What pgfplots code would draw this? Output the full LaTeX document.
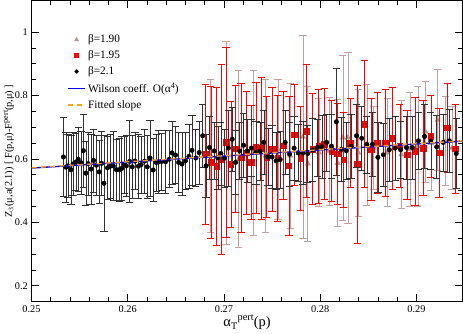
\documentclass[border=0pt]{standalone}
\usepackage{fontspec}
\setmainfont{Liberation Serif}
\usepackage{pgfplots}
\pgfplotsset{compat=1.18}

\definecolor{bnine}{RGB}{188,143,143}
\definecolor{wblue}{RGB}{0,0,255}
\definecolor{fitorange}{RGB}{255,165,0}

\pgfplotsset{
    ebars/.style={
        error bars/y dir=both,
        error bars/y explicit,
        error bars/error bar style={#1, line width=0.55pt, solid},
        error bars/error mark options={rotate=90, mark size=3.5pt, #1, line width=0.55pt, solid},
    },
}

\begin{document}
\begin{tikzpicture}
\begin{axis}[
    scale only axis,
    width=418pt, height=292pt,
    xmin=0.25, xmax=0.2948,
    ymin=0.15, ymax=1.1,
    xtick={0.25,0.26,0.27,0.28,0.29},
    xticklabels={0.25,0.26,0.27,0.28,0.29},
    ytick={0.2,0.4,0.6,0.8,1},
    yticklabels={0.2,0.4,0.6,0.8,1},
    minor x tick num=4,
    minor y tick num=3,
    tick align=inside,
    tick pos=both,
    major tick length=7pt,
    minor tick length=4pt,
    tick style={black, line width=0.6pt},
    axis line style={line width=0.8pt},
    tick label style={font=\fontsize{10}{12}\selectfont},
    xlabel={\fontsize{14}{16}\selectfont α$_{\mathrm{T}}$\raisebox{0.9ex}{\fontsize{10}{12}\selectfont pert}(p)},
    ylabel={\fontsize{10}{12}\selectfont Z$_{3}$(μ,a(2.1)) [ F(p,μ)-F\raisebox{0.8ex}{\fontsize{8}{10}\selectfont pert}(p,μ) ]},
    xlabel style={yshift=4pt},
    ylabel style={yshift=-6pt},
    legend style={draw=none, fill=none, at={(rel axis cs:0.075,0.90)}, anchor=north west,
        font=\fontsize{11}{13}\selectfont, row sep=2.2pt},
    legend cell align=left,
    clip marker paths=true,
]

% --- beta = 1.90 ---
\addplot[forget plot, only marks, mark=triangle*, mark size=3pt, color=bnine, ebars=bnine!85]
 coordinates {
 (0.26861,0.610) +- (0,0.24)
 (0.27022,0.650) +- (0,0.32)
 (0.27154,0.600) +- (0,0.28)
 (0.27304,0.620) +- (0,0.26)
 (0.27432,0.610) +- (0,0.24)
 (0.27561,0.630) +- (0,0.22)
 (0.27689,0.610) +- (0,0.23)
 (0.27821,0.670) +- (0,0.32)
 (0.27871,0.585) +- (0,0.245)
 (0.27986,0.620) +- (0,0.17)
 (0.28093,0.625) +- (0,0.17)
 (0.28182,0.587) +- (0,0.20)
 (0.28236,0.667) +- (0,0.26)
 (0.28289,0.667) +- (0,0.27)
 (0.28396,0.620) +- (0,0.20)
 (0.28485,0.645) +- (0,0.19)
 (0.28557,0.635) +- (0,0.13)
 (0.28696,0.620) +- (0,0.17)
 (0.28843,0.614) +- (0,0.17)
 (0.28932,0.630) +- (0,0.18)
 (0.29015,0.640) +- (0,0.19)
 (0.29093,0.686) +- (0,0.16)
 (0.29150,0.650) +- (0,0.15)
 (0.29221,0.723) +- (0,0.16)
 (0.29300,0.656) +- (0,0.14)
 (0.29371,0.635) +- (0,0.13)
};

% --- beta = 1.95 ---
\addplot[forget plot, only marks, mark=square*, mark size=2.7pt, color=red, ebars=red]
 coordinates {
 (0.26811,0.615) +- (0,0.22)
 (0.26864,0.590) +- (0,0.24)
 (0.26925,0.577) +- (0,0.25)
 (0.26971,0.599) +- (0,0.30)
 (0.27022,0.652) +- (0,0.30)
 (0.27071,0.583) +- (0,0.20)
 (0.27121,0.632) +- (0,0.20)
 (0.27178,0.604) +- (0,0.235)
 (0.27232,0.619) +- (0,0.195)
 (0.27282,0.589) +- (0,0.18)
 (0.27332,0.636) +- (0,0.206)
 (0.27392,0.634) +- (0,0.225)
 (0.27443,0.606) +- (0,0.19)
 (0.27500,0.630) +- (0,0.195)
 (0.27557,0.602) +- (0,0.20)
 (0.27614,0.642) +- (0,0.17)
 (0.27675,0.578) +- (0,0.22)
 (0.27732,0.676) +- (0,0.16)
 (0.27796,0.602) +- (0,0.165)
 (0.27857,0.688) +- (0,0.21)
 (0.27922,0.631) +- (0,0.175)
 (0.27984,0.640) +- (0,0.18)
 (0.28043,0.647) +- (0,0.175)
 (0.28118,0.625) +- (0,0.16)
 (0.28179,0.616) +- (0,0.16)
 (0.28243,0.598) +- (0,0.15)
 (0.28314,0.650) +- (0,0.14)
 (0.28386,0.583) +- (0,0.25)
 (0.28457,0.710) +- (0,0.20)
 (0.28528,0.630) +- (0,0.16)
 (0.28593,0.650) +- (0,0.16)
 (0.28678,0.651) +- (0,0.17)
 (0.28750,0.665) +- (0,0.16)
 (0.28828,0.641) +- (0,0.13)
 (0.28903,0.613) +- (0,0.14)
 (0.28986,0.625) +- (0,0.17)
 (0.29068,0.634) +- (0,0.15)
 (0.29150,0.671) +- (0,0.13)
 (0.29235,0.619) +- (0,0.14)
 (0.29321,0.699) +- (0,0.14)
 (0.29404,0.632) +- (0,0.14)
};

% --- beta = 2.1 ---
\addplot[forget plot, only marks, mark=*, mark size=2.2pt, color=black, ebars=black!80]
 coordinates {
 (0.25332,0.606) +- (0,0.125)
 (0.25357,0.574) +- (0,0.11)
 (0.25380,0.578) +- (0,0.10)
 (0.25410,0.566) +- (0,0.11)
 (0.25432,0.584) +- (0,0.10)
 (0.25461,0.590) +- (0,0.09)
 (0.25485,0.599) +- (0,0.10)
 (0.25514,0.588) +- (0,0.10)
 (0.25539,0.626) +- (0,0.115)
 (0.25565,0.555) +- (0,0.10)
 (0.25589,0.585) +- (0,0.10)
 (0.25618,0.568) +- (0,0.11)
 (0.25646,0.595) +- (0,0.10)
 (0.25675,0.580) +- (0,0.095)
 (0.25704,0.559) +- (0,0.10)
 (0.25729,0.586) +- (0,0.10)
 (0.25753,0.523) +- (0,0.15)
 (0.25790,0.572) +- (0,0.10)
 (0.25818,0.577) +- (0,0.10)
 (0.25850,0.578) +- (0,0.11)
 (0.25882,0.566) +- (0,0.095)
 (0.25911,0.566) +- (0,0.10)
 (0.25938,0.570) +- (0,0.10)
 (0.25964,0.582) +- (0,0.09)
 (0.25986,0.578) +- (0,0.095)
 (0.26021,0.592) +- (0,0.13)
 (0.26047,0.575) +- (0,0.10)
 (0.26075,0.593) +- (0,0.09)
 (0.26111,0.577) +- (0,0.10)
 (0.26139,0.582) +- (0,0.09)
 (0.26175,0.593) +- (0,0.10)
 (0.26203,0.575) +- (0,0.10)
 (0.26232,0.603) +- (0,0.12)
 (0.26264,0.565) +- (0,0.10)
 (0.26296,0.589) +- (0,0.09)
 (0.26318,0.590) +- (0,0.10)
 (0.26353,0.592) +- (0,0.09)
 (0.26393,0.591) +- (0,0.10)
 (0.26432,0.599) +- (0,0.09)
 (0.26460,0.619) +- (0,0.10)
 (0.26497,0.612) +- (0,0.09)
 (0.26529,0.589) +- (0,0.095)
 (0.26564,0.584) +- (0,0.10)
 (0.26600,0.594) +- (0,0.09)
 (0.26636,0.608) +- (0,0.10)
 (0.26668,0.627) +- (0,0.11)
 (0.26707,0.603) +- (0,0.09)
 (0.26743,0.620) +- (0,0.10)
 (0.26779,0.673) +- (0,0.10)
 (0.26814,0.578) +- (0,0.10)
 (0.26850,0.636) +- (0,0.10)
 (0.26900,0.625) +- (0,0.09)
 (0.26936,0.603) +- (0,0.10)
 (0.26968,0.617) +- (0,0.10)
 (0.27004,0.602) +- (0,0.09)
 (0.27046,0.634) +- (0,0.12)
 (0.27086,0.662) +- (0,0.10)
 (0.27121,0.589) +- (0,0.10)
 (0.27164,0.625) +- (0,0.09)
 (0.27204,0.643) +- (0,0.10)
 (0.27242,0.625) +- (0,0.10)
 (0.27285,0.634) +- (0,0.09)
 (0.27332,0.620) +- (0,0.10)
 (0.27375,0.624) +- (0,0.09)
 (0.27414,0.652) +- (0,0.10)
 (0.27457,0.606) +- (0,0.09)
 (0.27500,0.606) +- (0,0.10)
 (0.27542,0.594) +- (0,0.09)
 (0.27585,0.598) +- (0,0.09)
 (0.27636,0.652) +- (0,0.10)
 (0.27682,0.615) +- (0,0.10)
 (0.27729,0.634) +- (0,0.10)
 (0.27772,0.619) +- (0,0.09)
 (0.27821,0.619) +- (0,0.10)
 (0.27871,0.617) +- (0,0.09)
 (0.27922,0.628) +- (0,0.10)
 (0.27971,0.636) +- (0,0.09)
 (0.28018,0.639) +- (0,0.10)
 (0.28067,0.652) +- (0,0.09)
 (0.28118,0.640) +- (0,0.10)
 (0.28168,0.717) +- (0,0.17)
 (0.28220,0.630) +- (0,0.10)
 (0.28271,0.626) +- (0,0.09)
 (0.28321,0.640) +- (0,0.10)
 (0.28378,0.673) +- (0,0.10)
 (0.28432,0.665) +- (0,0.10)
 (0.28485,0.646) +- (0,0.09)
 (0.28543,0.646) +- (0,0.10)
 (0.28600,0.605) +- (0,0.11)
 (0.28657,0.613) +- (0,0.10)
 (0.28718,0.629) +- (0,0.10)
 (0.28779,0.634) +- (0,0.10)
 (0.28836,0.629) +- (0,0.09)
 (0.28897,0.636) +- (0,0.10)
 (0.28957,0.636) +- (0,0.10)
 (0.29021,0.657) +- (0,0.09)
 (0.29085,0.671) +- (0,0.10)
 (0.29150,0.656) +- (0,0.09)
 (0.29211,0.638) +- (0,0.10)
 (0.29278,0.652) +- (0,0.09)
 (0.29342,0.657) +- (0,0.10)
 (0.29414,0.617) +- (0,0.11)
};

% --- Wilson coefficient and fitted slope ---
\addplot[forget plot, color=wblue, line width=1.3pt, no marks]
 coordinates {(0.25,0.571) (0.26,0.590) (0.27,0.609) (0.28,0.628) (0.29,0.647) (0.2948,0.656)};
\addplot[forget plot, color=fitorange, line width=1.3pt, dash pattern=on 5pt off 4pt, no marks]
 coordinates {(0.25,0.572) (0.2948,0.657)};

% --- legend ---
\addlegendimage{only marks, mark=triangle*, mark size=2.2pt, color=bnine}
\addlegendentry{β=1.90}
\addlegendimage{only marks, mark=square*, mark size=1.9pt, color=red}
\addlegendentry{β=1.95}
\addlegendimage{only marks, mark=*, mark size=1.9pt, color=black}
\addlegendentry{β=2.1}
\addlegendimage{no marks, color=wblue, line width=1.2pt}
\addlegendentry{Wilson coeff. O(α\raisebox{0.8ex}{\fontsize{8}{10}\selectfont 4})}
\addlegendimage{no marks, color=fitorange, line width=1.2pt, dash pattern=on 5pt off 4pt}
\addlegendentry{Fitted slope}

\end{axis}
\end{tikzpicture}
\end{document}
